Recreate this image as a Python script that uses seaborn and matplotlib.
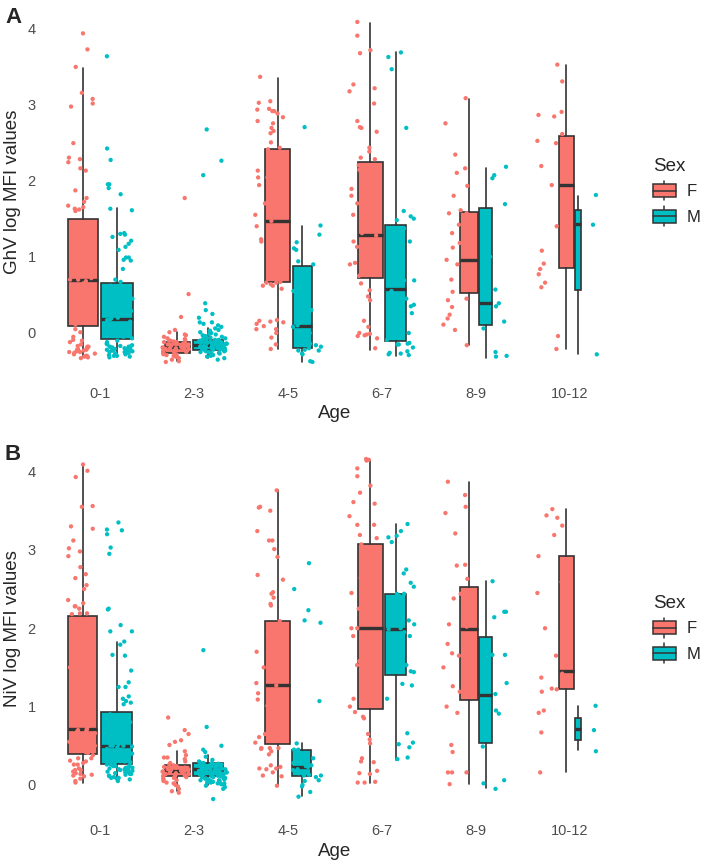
import numpy as np
import pandas as pd
import matplotlib
matplotlib.use('Agg')
import matplotlib.pyplot as plt
from matplotlib.patches import Patch, Rectangle
from matplotlib.lines import Line2D
from matplotlib.legend_handler import HandlerBase
import seaborn as sns

# categories
ages = ['0-1', '2-3', '4-5', '6-7', '8-9', '10-12']
sexes = ['F', 'M']
sex_colors = {'F': '#F8766D', 'M': '#00BFC4'}

# GhV log MFI values, one list per age group
ghv_f_points = [
    [3.93, 3.72, 3.49, 3.15, 3.07, 3.01, 2.97, 2.49, 2.30, 2.28, 2.24, 2.16, 2.13, 1.87, 1.77, 1.72, 1.67, 1.65, 1.63, 1.62, 1.60,
     1.45, 1.38, 1.30, 1.22, 1.14, 1.10, 1.06, 1.00, 0.92, 0.88, 0.80, 0.75, 0.72, 0.70, 0.70, 0.68, 0.65, 0.58, 0.50, 0.46, 0.40,
     0.34, 0.32, 0.25, 0.21, 0.15, 0.11, 0.05, 0.01, -0.05, -0.09, -0.10, -0.12, -0.15, -0.17, -0.18, -0.18, -0.20, -0.20, -0.21,
     -0.22, -0.22, -0.23, -0.24, -0.25, -0.25, -0.26, -0.27, -0.28, -0.30, -0.30, -0.32, -0.33, -0.31],
    [1.77, 0.51, 0.21, 0.04, 0.01, -0.02, -0.03, -0.05, -0.07, -0.08, -0.09, -0.10, -0.10, -0.11, -0.12, -0.12, -0.13, -0.14, -0.14,
     -0.15, -0.15, -0.16, -0.17, -0.17, -0.18, -0.18, -0.19, -0.19, -0.19, -0.20, -0.20, -0.21, -0.21, -0.22, -0.22, -0.23, -0.23,
     -0.24, -0.25, -0.25, -0.26, -0.27, -0.28, -0.28, -0.29, -0.30, -0.31, -0.32, -0.33, -0.35, -0.37, -0.38],
    [3.36, 3.04, 3.02, 2.93, 2.91, 2.94, 2.91, 2.88, 2.83, 2.78, 2.75, 2.69, 2.65, 2.62, 2.50, 2.43, 2.41, 2.28, 2.15, 2.13, 2.04,
     2.04, 1.94, 1.55, 1.23, 1.20, 1.20, 1.01, 0.99, 0.86, 0.67, 0.66, 0.66, 0.64, 0.62, 0.62, 0.58, 0.17, 0.16, 0.15, 0.14, 0.12,
     0.09, 0.05, 0.05, 0.00, -0.06, -0.15, -0.21, 1.85, 1.70, 1.47, 1.40, 1.30],
    [4.08, 3.90, 3.71, 3.67, 3.26, 3.21, 3.17, 3.01, 2.78, 2.70, 2.64, 2.69, 2.38, 2.30, 2.28, 2.43, 1.89, 1.89, 2.14, 1.90, 1.13,
     0.94, 0.92, 1.06, 1.00, 0.48, 0.43, 0.56, 0.65, 1.31, 1.36, 0.00, -0.01, -0.07, -0.20, -0.03, -0.04, -0.02, 0.08, 0.16, 2.20,
     2.00, 1.80, 1.70, 1.55, 1.45, 1.28, 1.20, 0.90, 0.80, 0.75],
    [3.08, 2.75, 2.34, 2.16, 2.10, 1.93, 1.80, 1.61, 1.57, 1.54, 1.57, 1.42, 1.31, 1.12, 1.18, 0.96, 0.90, 0.70, 0.54, 0.34, 0.45,
     0.43, 0.24, 0.19, 0.11, 0.04, -0.16],
    [3.52, 3.30, 2.84, 2.86, 2.90, 2.52, 2.49, 2.61, 2.19, 1.94, 1.40, 1.08, 0.91, 0.77, 0.60, 0.84, 0.66, -0.04, -0.21],
]
ghv_m_points = [
    [3.63, 2.42, 2.27, 1.95, 1.95, 1.90, 1.82, 1.63, 1.61, 1.31, 1.30, 1.29, 1.26, 1.21, 1.17, 1.13, 1.09, 0.99, 0.99, 0.96, 0.95,
     0.84, 0.70, 0.67, 0.62, 0.58, 0.55, 0.49, 0.45, 0.40, 0.38, 0.35, 0.32, 0.29, 0.26, 0.23, 0.20, 0.19, 0.18, 0.17, 0.15, 0.12,
     0.10, 0.08, 0.06, 0.04, 0.02, 0.00, -0.02, -0.04, -0.05, -0.07, -0.10, -0.12, -0.14, -0.15, -0.16, -0.17, -0.18, -0.18, -0.19,
     -0.20, -0.20, -0.21, -0.22, -0.22, -0.23, -0.24, -0.25, -0.25, -0.26, -0.27, -0.28, -0.28, -0.29, -0.30, -0.30, -0.31, -0.32,
     -0.18, -0.21, -0.24, -0.27, -0.19, -0.23],
    [2.67, 2.26, 2.07, 0.39, 0.30, 0.25, 0.20, 0.14, 0.14, 0.12, 0.10, 0.08, 0.06, 0.04, 0.03, 0.01, 0.00, -0.01, -0.02, -0.03,
     -0.04, -0.05, -0.06, -0.06, -0.07, -0.08, -0.08, -0.09, -0.09, -0.10, -0.10, -0.11, -0.11, -0.12, -0.12, -0.13, -0.13, -0.14,
     -0.14, -0.15, -0.15, -0.16, -0.16, -0.16, -0.17, -0.17, -0.18, -0.18, -0.19, -0.19, -0.20, -0.20, -0.21, -0.21, -0.22, -0.22,
     -0.23, -0.23, -0.24, -0.24, -0.25, -0.25, -0.26, -0.26, -0.27, -0.28, -0.29, -0.30, -0.31, -0.33, -0.35, -0.12, -0.15, -0.18,
     -0.20, -0.22, -0.17, -0.14, -0.19, -0.21],
    [2.70, 1.41, 1.29, 1.19, 1.11, 1.09, 0.94, 0.90, 0.41, 0.36, 0.19, 0.08, -0.14, -0.18, -0.16, -0.20, -0.23, -0.23, -0.22,
     -0.14, -0.13, -0.27, -0.28, 0.70, 0.55, 0.30, 0.10, 0.00, -0.37, -0.38],
    [3.68, 3.62, 3.46, 2.69, 1.60, 1.53, 1.50, 1.48, 1.37, 1.01, 0.97, 0.75, 0.69, 0.69, 0.53, 0.45, 0.37, 0.26, 0.24, -0.09,
     -0.13, -0.19, -0.24, -0.15, -0.15, -0.14, -0.26, -0.29, -0.27, -0.28, 1.20, 1.00, 0.80, 0.55, 0.35, 0.15, 0.00],
    [2.18, 2.07, 2.03, 1.69, 0.57, 0.35, 0.39, 0.25, 0.15, 0.06, -0.25, -0.30, -0.31, 1.00],
    [1.81, 1.42, -0.28],
]

# NiV log MFI values, one list per age group
niv_f_points = [
    [4.09, 4.01, 3.93, 3.55, 3.56, 3.27, 3.30, 3.12, 3.02, 2.98, 2.92, 2.78, 2.69, 2.64, 2.55, 2.50, 2.36, 2.32, 2.28, 2.25, 2.28,
     2.19, 2.19, 2.18, 2.04, 1.66, 1.67, 1.43, 1.09, 0.96, 0.66, 0.62, 0.38, 0.34, 0.34, 0.31, 0.30, 0.28, 0.26, 0.26, 0.21, 0.19,
     0.19, 0.15, 0.14, 0.13, 0.11, 0.03, 0.05, 0.08, 0.12, 0.17, 1.85, 1.50, 1.25, 1.00, 0.85, 0.75, 0.72, 0.71, 0.70, 0.69, 0.68,
     0.65, 0.60, 0.58, 0.55, 0.52, 0.50, 0.48, 0.45, 0.42, 0.41],
    [0.86, 0.70, 0.65, 0.57, 0.55, 0.51, 0.43, 0.38, 0.35, 0.35, 0.33, 0.30, 0.28, 0.26, 0.25, 0.24, 0.23, 0.22, 0.22, 0.21, 0.20,
     0.20, 0.19, 0.19, 0.18, 0.18, 0.18, 0.17, 0.17, 0.16, 0.16, 0.15, 0.14, 0.14, 0.13, 0.12, 0.12, 0.11, 0.11, 0.10, 0.09, 0.08,
     0.07, 0.06, 0.05, 0.03, 0.02, 0.00, -0.02, -0.05, -0.08, -0.10],
    [3.76, 3.55, 3.50, 3.54, 3.24, 3.12, 3.12, 3.01, 2.91, 2.62, 2.68, 2.46, 2.44, 2.39, 2.31, 2.29, 2.09, 1.93, 1.88, 1.60, 1.09,
     1.01, 1.17, 0.61, 0.54, 0.46, 0.47, 0.47, 0.43, 0.47, 0.39, 0.23, 0.20, 0.21, 0.25, 0.16, 0.12, 0.11, -0.01, 0.21, 2.00, 1.80,
     1.70, 1.50, 1.40, 1.30, 1.27, 1.20, 0.95, 0.85, 0.75, 0.65],
    [4.16, 4.14, 4.15, 4.04, 3.94, 3.82, 3.73, 3.61, 3.59, 3.43, 3.32, 3.32, 3.19, 3.15, 3.07, 2.95, 2.64, 2.51, 2.45, 2.51, 2.45,
     1.58, 1.45, 1.53, 1.33, 0.93, 0.87, 0.85, 0.65, 0.53, 0.58, 0.30, 0.34, 0.29, 0.15, 0.14, 0.18, 0.04, 0.03, 0.03, 2.90, 2.70,
     2.40, 2.25, 2.10, 2.00, 2.00, 1.90, 1.75, 1.20, 1.10, 1.00],
    [3.87, 3.70, 3.55, 3.47, 3.21, 2.81, 2.80, 2.63, 2.38, 2.44, 2.05, 2.02, 2.06, 1.65, 1.68, 1.26, 1.19, 1.00, 0.92, 0.51, 0.42,
     0.16, 0.16, 0.16, 0.01, 1.80, 1.50],
    [3.52, 3.44, 3.41, 3.31, 3.19, 2.92, 2.59, 2.45, 1.65, 1.42, 1.37, 1.23, 1.22, 1.19, 0.95, 0.92, 0.67, 0.16, 2.00],
]
niv_m_points = [
    [3.35, 3.25, 3.26, 3.20, 3.03, 2.95, 2.24, 2.25, 2.04, 1.96, 1.96, 1.83, 1.79, 1.65, 1.66, 1.46, 1.31, 1.25, 1.25, 1.13, 1.07,
     1.03, 1.05, 1.10, 0.71, 0.45, 0.62, 0.50, 0.16, 0.19, 0.18, 0.23, 0.19, 0.17, 0.20, 0.14, 0.19, 0.09, 0.05, 0.09, 0.90, 0.85,
     0.80, 0.76, 0.72, 0.68, 0.65, 0.60, 0.58, 0.55, 0.52, 0.50, 0.50, 0.49, 0.48, 0.46, 0.44, 0.42, 0.40, 0.38, 0.36, 0.34, 0.32,
     0.30, 0.29, 0.28, 0.26, 0.25, 0.24, 0.22, 0.21, 0.20, 0.18, 0.16, 0.15, 0.13, 0.12, 0.10, 0.08, 0.07, 0.11, 0.14, 0.17, 0.22,
     0.24, 0.26],
    [1.72, 0.74, 0.50, 0.45, 0.42, 0.36, 0.32, 0.30, 0.29, 0.28, 0.28, 0.27, 0.26, 0.26, 0.25, 0.25, 0.24, 0.24, 0.23, 0.23, 0.22,
     0.22, 0.21, 0.21, 0.21, 0.20, 0.20, 0.20, 0.19, 0.19, 0.19, 0.18, 0.18, 0.18, 0.17, 0.17, 0.17, 0.16, 0.16, 0.16, 0.15, 0.15,
     0.15, 0.14, 0.14, 0.14, 0.13, 0.13, 0.13, 0.12, 0.12, 0.12, 0.11, 0.11, 0.10, 0.10, 0.09, 0.09, 0.08, 0.08, 0.07, 0.07, 0.06,
     0.06, 0.05, 0.05, 0.04, 0.04, 0.03, 0.03, 0.02, 0.02, 0.01, 0.00, -0.01, -0.03, -0.05, -0.18, 0.19, 0.21],
    [2.83, 2.50, 2.23, 2.10, 2.07, 1.07, 0.53, 0.45, 0.42, 0.45, 0.34, 0.23, 0.34, 0.24, 0.19, 0.12, 0.12, 0.10, 0.13, 0.15, 0.06,
     0.05, -0.09, -0.15, -0.02, 0.00, 0.30, 0.28, 0.25, 0.20],
    [3.33, 3.18, 3.24, 3.16, 3.10, 2.75, 2.70, 2.58, 2.53, 2.44, 2.44, 2.41, 2.25, 2.09, 2.05, 1.95, 1.67, 1.53, 1.44, 1.27, 1.29,
     1.10, 0.48, 0.54, 0.66, 0.52, 0.33, 0.35, 2.30, 2.10, 2.00, 1.99, 1.90, 1.80, 1.60, 1.50, 1.45],
    [2.60, 2.21, 2.21, 2.14, 1.66, 1.66, 1.16, 0.95, 0.91, 0.49, 0.06, 0.02, -0.05, 1.30],
    [1.01, 0.70, 0.43],
]

# box summaries per age group: (lower whisker, Q1, median, Q3, upper whisker)
ghv_f_box = [(-0.31, 0.09, 0.70, 1.49, 3.48), (-0.37, -0.26, -0.19, -0.12, 0.01), (-0.21, 0.67, 1.47, 2.41, 3.35),
             (-0.22, 0.72, 1.28, 2.24, 4.07), (-0.16, 0.52, 0.96, 1.59, 3.07), (-0.21, 0.85, 1.94, 2.59, 3.51)]
ghv_m_box = [(-0.30, -0.08, 0.18, 0.65, 1.64), (-0.33, -0.22, -0.16, -0.09, 0.06), (-0.38, -0.20, 0.09, 0.88, 1.40),
             (-0.30, -0.10, 0.58, 1.42, 3.68), (-0.33, 0.10, 0.39, 1.64, 2.17), (-0.27, 0.57, 1.43, 1.61, 1.80)]
niv_f_box = [(0.03, 0.40, 0.71, 2.15, 4.09), (-0.08, 0.11, 0.18, 0.25, 0.43), (-0.01, 0.52, 1.27, 2.09, 3.76),
             (0.03, 0.97, 2.00, 3.07, 4.15), (0.01, 1.08, 1.99, 2.53, 3.87), (0.17, 1.23, 1.46, 2.92, 3.52)]
niv_m_box = [(0.06, 0.27, 0.50, 0.93, 1.83), (0.00, 0.12, 0.20, 0.28, 0.38), (-0.14, 0.11, 0.23, 0.45, 0.53),
             (0.32, 1.40, 1.99, 2.44, 3.33), (-0.04, 0.53, 1.15, 1.89, 2.60), (0.44, 0.57, 0.71, 0.86, 1.01)]

edge = '#333333'

sns.set_style('white')
plt.rcParams['font.family'] = ['Liberation Sans', 'DejaVu Sans']


class BoxKey(HandlerBase):
    # little boxplot glyph for the legend
    def create_artists(self, legend, orig_handle, xdescent, ydescent, width, height, fontsize, trans):
        x0, y0 = -xdescent, -ydescent
        cx = x0 + width / 2
        bh = height * 0.64
        by = y0 + (height - bh) / 2
        box = Rectangle((x0, by), width, bh, facecolor=orig_handle.get_facecolor(),
                        edgecolor=edge, lw=1.1, transform=trans)
        med = Line2D([x0, x0 + width], [by + bh / 2] * 2, color=edge, lw=1.1, transform=trans)
        w_top = Line2D([cx, cx], [by + bh, y0 + height], color=edge, lw=1.1, transform=trans)
        w_bot = Line2D([cx, cx], [y0, by], color=edge, lw=1.1, transform=trans)
        return [w_top, w_bot, box, med]


def long_table(f_points, m_points):
    rows = []
    for age, fv, mv in zip(ages, f_points, m_points):
        rows += [(age, 'F', v) for v in fv]
        rows += [(age, 'M', v) for v in mv]
    return pd.DataFrame(rows, columns=['Age', 'Sex', 'value'])


def draw_panel(ax, f_points, m_points, f_box, m_box, ylabel):
    df = long_table(f_points, m_points)

    # box width ~ sqrt(n), boxes packed side by side around each age
    n_f = np.array([len(v) for v in f_points])
    n_m = np.array([len(v) for v in m_points])
    n_max = max(n_f.max(), n_m.max())
    w_f = 0.75 * np.sqrt(n_f / n_max) / 2
    w_m = 0.75 * np.sqrt(n_m / n_max) / 2
    x = np.arange(len(ages))
    left = x - (w_f + w_m) / 2
    pos_f = left + w_f / 2
    pos_m = left + w_f + w_m / 2

    for boxes, pos, w, sex in [(f_box, pos_f, w_f, 'F'), (m_box, pos_m, w_m, 'M')]:
        stats = [dict(whislo=b[0], q1=b[1], med=b[2], q3=b[3], whishi=b[4], fliers=[]) for b in boxes]
        ax.bxp(stats, positions=pos, widths=w * 0.9, patch_artist=True, showfliers=False,
               showcaps=False, manage_ticks=False,
               boxprops=dict(facecolor=sex_colors[sex], edgecolor=edge, linewidth=1.2),
               medianprops=dict(color=edge, linewidth=2.4, solid_capstyle='butt'),
               whiskerprops=dict(color=edge, linewidth=1.2), zorder=2)

    np.random.seed(3)
    sns.stripplot(data=df, x='Age', y='value', hue='Sex', order=ages, hue_order=sexes,
                  palette=sex_colors, dodge=True, jitter=0.3, size=3.1, linewidth=0,
                  legend=False, ax=ax, zorder=3)

    lo = min(df['value'].min(), min(b[0] for b in f_box + m_box))
    hi = max(df['value'].max(), max(b[4] for b in f_box + m_box))
    span = hi - lo
    ax.set_ylim(lo - 0.05 * span, hi + 0.05 * span)
    ax.set_xlim(-0.6, len(ages) - 0.4)
    ax.set_yticks(range(5))
    ax.set_xticks(range(len(ages)))
    ax.set_xticklabels(ages)
    ax.tick_params(length=0, labelsize=10.5, labelcolor='#4D4D4D', pad=6)
    sns.despine(ax=ax, left=True, bottom=True)
    ax.set_xlabel('Age', fontsize=13.5, labelpad=3)
    ax.set_ylabel(ylabel, fontsize=13.5, labelpad=5)

    ax.legend(handles=[Patch(facecolor=sex_colors[s]) for s in sexes], labels=sexes, title='Sex',
              handler_map={Patch: BoxKey()}, loc='center left', bbox_to_anchor=(1.046, 0.5),
              frameon=False, fontsize=12, title_fontsize=13.5, handlelength=1.4, handleheight=1.45,
              labelspacing=0.35, handletextpad=0.6, borderpad=0, borderaxespad=0, alignment='left')


fig = plt.figure(figsize=(7.09, 8.66), dpi=100)
ax_a = fig.add_axes([0.0621, 0.5624, 0.8209, 0.4319])
ax_b = fig.add_axes([0.0621, 0.0577, 0.8209, 0.4319])

draw_panel(ax_a, ghv_f_points, ghv_m_points, ghv_f_box, ghv_m_box, 'GhV log MFI values')
draw_panel(ax_b, niv_f_points, niv_m_points, niv_f_box, niv_m_box, 'NiV log MFI values')

fig.text(5 / 709, 1 - 7 / 866, 'A', fontsize=16, fontweight='bold', va='top', ha='left')
fig.text(5 / 709, 1 - 444 / 866, 'B', fontsize=16, fontweight='bold', va='top', ha='left')

fig.savefig('out.png', dpi=100)
